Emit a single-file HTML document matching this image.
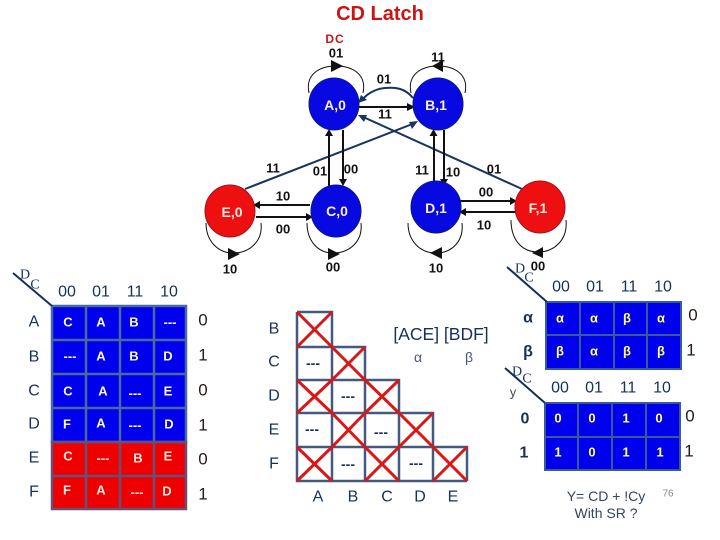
<!DOCTYPE html>
<html><head><meta charset="utf-8"><style>
html,body{margin:0;padding:0;background:#fff;width:720px;height:540px;overflow:hidden}
svg{display:block}
text{font-family:"Liberation Sans",sans-serif;text-anchor:middle;dominant-baseline:central}
.g{font-size:13px;font-weight:bold;fill:#111}
.n{font-size:14px;font-weight:bold;fill:#f5f0c8}
.h{font-size:16px;fill:#16305c}
.k{font-size:17px;fill:#2a1a1a}
.c{font-size:13px;font-weight:bold;fill:#fbf8c8}
.r{font-size:13px;font-weight:bold;fill:#fbe8e0}
.y{font-size:13px;font-weight:bold;fill:#ffff66}
.s{font-family:"Liberation Serif",serif;font-size:14px;fill:#16305c}
.d{font-size:14px;font-weight:bold;fill:#16305c}
.l{fill:none;stroke:#111;stroke-width:1}
.b{stroke:#111;stroke-width:2;fill:none}
.v{stroke:#17355f;stroke-width:2;fill:none}
.x{stroke:#dd1515;stroke-width:3}
.t{fill:none;stroke:#44597f;stroke-width:2.5}
</style></head><body>
<svg width="720" height="540" viewBox="0 0 720 540" xmlns="http://www.w3.org/2000/svg">
<text x="380" y="14" style="font-size:20px;font-weight:bold;fill:#cc1414">CD Latch</text>
<text x="335" y="39" style="font-size:12px;font-weight:bold;fill:#cc1414;letter-spacing:1px">DC</text>

<!-- self loops -->
<path class="l" d="M309 93C305 74 320 66 336 66C352 66 367 74 363 93"/>
<path class="l" d="M411 93C407 74 422 66 438 66C454 66 469 74 465 93"/>
<path class="l" d="M206 223C206 241 218 253 233 253C250 253 263 241 261 223"/>
<path class="l" d="M307 223C307 241 318 253 333 253C350 253 363 241 361 223"/>
<path class="l" d="M408 223C408 241 420 253 436 253C452 253 464 241 462 223"/>
<path class="l" d="M511 220C511 240 522 252 538 252C554 252 568 240 566 220"/>
<path d="M331 60L343 66L331 72Z" fill="#111"/>
<path d="M443 60L432 66L443 72Z" fill="#111"/>
<path d="M228 248L240 254L228 260Z" fill="#111"/>
<path d="M328 248L340 254L328 260Z" fill="#111"/>
<path d="M442 247L430 253L442 259Z" fill="#111"/>
<path d="M543 247L532 253L543 258Z" fill="#111"/>

<!-- diagonals -->
<path class="v" d="M245 189L415 123"/><path d="M418 121L409 122L412 129Z" fill="#17355f"/>
<path class="v" d="M522 189L361 116"/><path d="M358 115L367 115L364 122Z" fill="#17355f"/>
<path class="v" d="M413 98C405 88 395 87 385 88C374 89 366 95 362 100"/><path d="M358 103L367 100L361 95Z" fill="#17355f"/>

<!-- straight -->
<path class="b" d="M358 107H410"/><path d="M415 107L407 103V111Z" fill="#111"/>
<path class="b" d="M329 186V134"/><path d="M329 129L325 136H333Z" fill="#111"/>
<path class="b" d="M343 130V180"/><path d="M343 186L339 179H347Z" fill="#111"/>
<path class="b" d="M434 186V134"/><path d="M433.500 129L429.500 136H437.500Z" fill="#111"/>
<path class="b" d="M444 130V180"/><path d="M444 186L440 179H448Z" fill="#111"/>
<path class="b" d="M310 205H258"/><path d="M253 205L260 201V209Z" fill="#111"/>
<path class="b" d="M256 217H308"/><path d="M313 217L306 213V221Z" fill="#111"/>
<path class="b" d="M460 201H512"/><path d="M517 201L510 197V205Z" fill="#111"/>
<path class="b" d="M516 212H464"/><path d="M459 212L466 208V216Z" fill="#111"/>

<!-- nodes -->
<ellipse cx="334" cy="104" rx="25" ry="26" fill="#0808e0" stroke="#0a1a80"/>
<ellipse cx="438" cy="104" rx="25" ry="26" fill="#0808e0" stroke="#0a1a80"/>
<ellipse cx="230" cy="211" rx="25" ry="26" fill="#ee1010" stroke="#a01020"/>
<ellipse cx="336" cy="211" rx="25" ry="26" fill="#0808e0" stroke="#0a1a80"/>
<ellipse cx="436" cy="207" rx="25" ry="26" fill="#0808e0" stroke="#0a1a80"/>
<ellipse cx="540" cy="207" rx="25" ry="26" fill="#ee1010" stroke="#a01020"/>
<text class="n" x="335" y="105">A,0</text><text class="n" x="436" y="105">B,1</text>
<text class="n" x="232" y="212" style="fill:#fbe8e0">E,0</text><text class="n" x="337" y="211">C,0</text>
<text class="n" x="436" y="208">D,1</text><text class="n" x="538" y="208" style="fill:#fbe8e0">F,1</text>

<!-- graph labels -->
<text class="g" x="336" y="53">01</text><text class="g" x="438" y="57">11</text>
<text class="g" x="384" y="79">01</text><text class="g" x="385" y="114">11</text>
<text class="g" x="273" y="168">11</text><text class="g" x="320" y="171">01</text>
<text class="g" x="351" y="169">00</text><text class="g" x="422" y="170">11</text>
<text class="g" x="453" y="172">10</text><text class="g" x="494" y="169">01</text>
<text class="g" x="283" y="196">10</text><text class="g" x="283" y="229">00</text>
<text class="g" x="486" y="192">00</text><text class="g" x="484" y="225">10</text>
<text class="g" x="230" y="269">10</text><text class="g" x="333" y="267">00</text>
<text class="g" x="436" y="268">10</text><text class="g" x="538" y="266">00</text>

<!-- Table 1 -->
<rect x="52" y="306" width="134" height="136" fill="#0000ee"/>
<rect x="52" y="442" width="134" height="67" fill="#ee0000"/>
<g fill="none" stroke="#4a6a9e" stroke-width="2.500">
<path d="M52 306H186V442H52Z"/><path d="M52 340H186M52 374H186M52 408H186"/>
<path d="M86 306V442M120 306V442M154 306V442"/>
</g>
<g fill="none" stroke="#65507a" stroke-width="2.500">
<path d="M52 442H186V509H52Z"/><path d="M52 476H186M86 442V509M120 442V509M154 442V509"/>
</g>
<path d="M13 273L52 306" stroke="#16305c" stroke-width="2"/>
<text class="s" x="25" y="275">D</text><text class="s" x="35" y="285">C</text>
<text class="h" x="67" y="292">00</text><text class="h" x="101" y="292">01</text><text class="h" x="135" y="292">11</text><text class="h" x="169" y="292">10</text>
<text class="h" x="34" y="322">A</text><text class="h" x="34" y="357">B</text><text class="h" x="34" y="391">C</text><text class="h" x="34" y="424">D</text><text class="h" x="34" y="458">E</text><text class="h" x="34" y="492">F</text>
<text class="k" x="203" y="320">0</text><text class="k" x="203" y="355">1</text><text class="k" x="203" y="390">0</text><text class="k" x="203" y="425">1</text><text class="k" x="203" y="459">0</text><text class="k" x="203" y="494">1</text>
<text class="c" x="68" y="322">C</text><text class="c" x="101" y="322">A</text><text class="c" x="134" y="322">B</text><text class="c" x="170" y="322">---</text>
<text class="c" x="70" y="356">---</text><text class="c" x="101" y="356">A</text><text class="c" x="134" y="356">B</text><text class="c" x="168" y="356">D</text>
<text class="c" x="68" y="391">C</text><text class="c" x="103" y="391">A</text><text class="c" x="135" y="393">---</text><text class="c" x="168" y="391">E</text>
<text class="c" x="67" y="424">F</text><text class="c" x="101" y="423">A</text><text class="c" x="135" y="425">---</text><text class="c" x="169" y="424">D</text>
<text class="r" x="68" y="456">C</text><text class="r" x="103" y="458">---</text><text class="r" x="138" y="458">B</text><text class="r" x="168" y="456">E</text>
<text class="r" x="67" y="490">F</text><text class="r" x="101" y="490">A</text><text class="r" x="137" y="492">---</text><text class="r" x="167" y="491">D</text>

<!-- Implication table -->
<path class="t" d="M297 312H332V481M297 347H365V481M297 380H399V481M297 413H433V481M297 447H467V481M297 312V481H467"/>
<g class="x">
<path d="M297 312L332 347M332 312L297 347"/>
<path d="M332 347L365 380M365 347L332 380"/>
<path d="M297 380L332 413M332 380L297 413"/>
<path d="M365 380L399 413M399 380L365 413"/>
<path d="M332 413L365 447M365 413L332 447"/>
<path d="M399 413L433 447M433 413L399 447"/>
<path d="M297 447L332 481M332 447L297 481"/>
<path d="M365 447L399 481M399 447L365 481"/>
<path d="M433 447L467 481M467 447L433 481"/>
</g>
<text class="d" x="313" y="363">---</text><text class="d" x="348" y="396">---</text><text class="d" x="312" y="429">---</text><text class="d" x="381" y="432">---</text><text class="d" x="348" y="464">---</text><text class="d" x="416" y="463">---</text>
<text class="h" x="274" y="329">B</text><text class="h" x="274" y="362">C</text><text class="h" x="274" y="396">D</text><text class="h" x="274" y="430">E</text><text class="h" x="274" y="464">F</text>
<text class="h" x="318" y="497">A</text><text class="h" x="353" y="497">B</text><text class="h" x="387" y="497">C</text><text class="h" x="420" y="497">D</text><text class="h" x="453" y="497">E</text>
<text x="441" y="334" style="font-size:17.500px;fill:#16305c">[ACE] [BDF]</text>
<text x="418" y="357" style="font-size:14px;fill:#44597f">α</text><text x="469" y="357" style="font-size:14px;fill:#44597f">β</text>

<!-- Table alpha/beta -->
<rect x="546" y="302" width="135" height="67" fill="#0000ee"/>
<g fill="none" stroke="#3a5a96" stroke-width="2"><path d="M546 302H681V369H546Z"/><path d="M546 335H681M580 302V369M614 302V369M647 302V369"/></g>
<path d="M507 267L547 302" stroke="#16305c" stroke-width="2"/>
<text class="s" x="520" y="269">D</text><text class="s" x="529" y="278">C</text>
<text class="h" x="561" y="287">00</text><text class="h" x="595" y="287">01</text><text class="h" x="629" y="287">11</text><text class="h" x="663" y="287">10</text>
<text x="528" y="318" style="font-size:16px;font-weight:bold;fill:#16305c">α</text><text x="528" y="352" style="font-size:16px;font-weight:bold;fill:#16305c">β</text>
<text class="k" x="693" y="315">0</text><text class="k" x="691" y="350">1</text>
<text class="y" x="560" y="318">α</text><text class="y" x="594" y="318">α</text><text class="y" x="627" y="318">β</text><text class="y" x="661" y="318">α</text>
<text class="y" x="560" y="351">β</text><text class="y" x="594" y="351">α</text><text class="y" x="627" y="351">β</text><text class="y" x="661" y="351">β</text>

<!-- Table Y -->
<rect x="545" y="403" width="135" height="67" fill="#0000ee"/>
<g fill="none" stroke="#3a5a96" stroke-width="2"><path d="M545 403H680V470H545Z"/><path d="M545 437H680M578 403V470M612 403V470M646 403V470"/></g>
<path d="M505 368L545 403" stroke="#16305c" stroke-width="2"/>
<text class="s" x="517" y="372">D</text><text class="s" x="527" y="379">C</text><text x="513" y="392" style="font-size:13px;fill:#445">y</text>
<text class="h" x="560" y="388">00</text><text class="h" x="594" y="388">01</text><text class="h" x="628" y="388">11</text><text class="h" x="662" y="388">10</text>
<text x="525" y="419" style="font-size:16px;font-weight:bold;fill:#16305c">0</text><text x="524" y="453" style="font-size:16px;font-weight:bold;fill:#16305c">1</text>
<text class="k" x="690" y="416">0</text><text class="k" x="689" y="451">1</text>
<text class="y" x="558" y="418">0</text><text class="y" x="592" y="418">0</text><text class="y" x="626" y="418">1</text><text class="y" x="659" y="418">0</text>
<text class="y" x="558" y="452">1</text><text class="y" x="592" y="452">0</text><text class="y" x="626" y="452">1</text><text class="y" x="660" y="452">1</text>

<text x="606" y="496" style="font-size:14px;fill:#34445c">Y= CD + !Cy</text>
<text x="606" y="513" style="font-size:14px;fill:#34445c">With SR ?</text>
<text x="668" y="494" style="font-size:10px;fill:#888">76</text>
</svg>
</body></html>
